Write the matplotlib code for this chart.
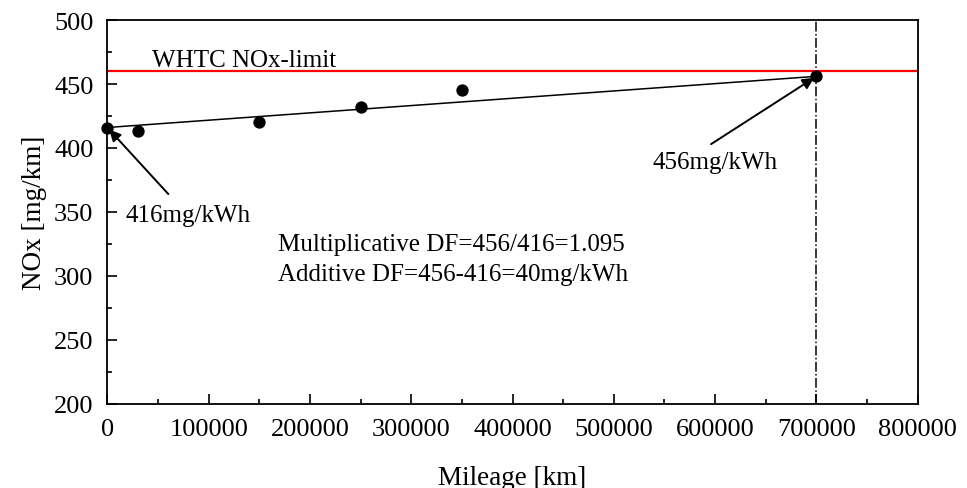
import matplotlib
matplotlib.use('Agg')
import matplotlib.pyplot as plt
from matplotlib.ticker import MultipleLocator

plt.rcParams['font.family'] = ['Liberation Serif', 'DejaVu Serif']

# measured points
mileage = [0, 30000, 150000, 250000, 350000, 700000]
nox = [416, 413, 420, 432, 445, 456]
# DF line end points
line_x = [0, 700000]
line_y = [416, 456]
limit = 460
full_life = 700000

fig, ax = plt.subplots(figsize=(9.67, 4.89), dpi=100)
fig.subplots_adjust(left=0.111, right=0.949, top=0.957, bottom=0.172)

ax.axhline(limit, color='#ff0000', lw=1.6, zorder=2)
ax.axvline(full_life, color='black', lw=1.1, ls='-.', zorder=1)
ax.plot(line_x, line_y, color='black', lw=1.1, zorder=3)
ax.scatter(mileage, nox, s=62, color='black', zorder=4, clip_on=False)

ax.text(44000, 460.5, 'WHTC NOx-limit', fontsize=18, va='bottom', ha='left')
arrow = dict(arrowstyle='-|>', color='black', lw=1.4, mutation_scale=17,
             shrinkA=0, shrinkB=2)
ax.annotate('', xy=(0, 416), xytext=(60200, 364), arrowprops=arrow)
ax.text(17800, 347.5, '416mg/kWh', fontsize=18, ha='left', va='center')
ax.annotate('', xy=(full_life, 456), xytext=(596000, 403), arrowprops=arrow)
ax.text(538600, 389, '456mg/kWh', fontsize=18, ha='left', va='center')
ax.text(168700, 325, 'Multiplicative DF=456/416=1.095', fontsize=18, va='center')
ax.text(168700, 301.5, 'Additive DF=456-416=40mg/kWh', fontsize=18, va='center')

ax.set_xlim(0, 800000)
ax.set_ylim(200, 500)
ax.xaxis.set_major_locator(MultipleLocator(100000))
ax.xaxis.set_minor_locator(MultipleLocator(50000))
ax.yaxis.set_major_locator(MultipleLocator(50))
ax.yaxis.set_minor_locator(MultipleLocator(25))
ax.tick_params(which='both', direction='in', top=False, right=False,
               labelsize=19, pad=10)
ax.tick_params(which='major', length=7.5, width=1.2)
ax.tick_params(which='minor', length=3.8, width=1.2)
for s in ax.spines.values():
    s.set_linewidth(1.3)

ax.set_xlabel('Mileage [km]', fontsize=19.5, labelpad=18)
ax.set_ylabel('NOx [mg/km]', fontsize=19.5, labelpad=5)

fig.savefig('out.png', dpi=100)
